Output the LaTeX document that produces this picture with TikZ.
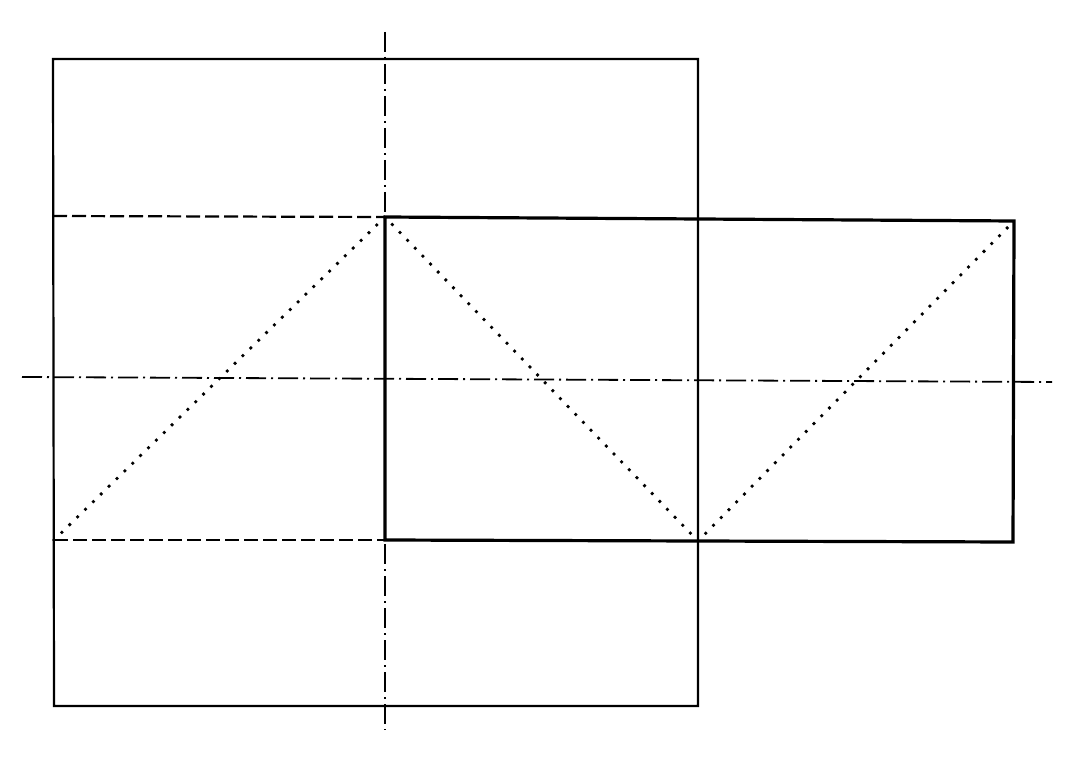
\documentclass[tikz,border=0pt]{standalone}
\begin{document}
\begin{tikzpicture}[x=0.5pt,y=-0.5pt,
  thinline/.style={line width=1.1pt},
  thickline/.style={line width=1.6pt},
  centerline/.style={line width=0.9pt,dash pattern=on 10pt off 2.5pt on 1pt off 2.5pt},
  hiddenline/.style={line width=1.1pt,dash pattern=on 7pt off 2.5pt},
  dotline/.style={line width=1.9pt,line cap=round,dash pattern=on 0pt off 5.5pt}]
\useasboundingbox (0,0) rectangle (1080,764);
% square corners
\coordinate (SA) at (53,59);
\coordinate (SB) at (698,59);
\coordinate (SC) at (698,706);
\coordinate (SD) at (54,706);
% rectangle corners
\coordinate (RA) at (385,217);
\coordinate (RB) at (1014,221);
\coordinate (RC) at (1013,542);
\coordinate (RD) at (385,540);
% left points
\coordinate (LA) at (53,216);
\coordinate (LD) at (54,540);
\coordinate (M) at (698,541);
% centre lines ends
\coordinate (VT) at (385,32);
\coordinate (VB) at (385,730);
\coordinate (HL) at (22,377);
\coordinate (HR) at (1052,382);
\draw[thinline] (SA) -- (SB) -- (SC) -- (SD) -- cycle;
\draw[thickline] (RA) -- (RB) -- (RC) -- (RD) -- cycle;
\draw[hiddenline] (LA) -- (RA);
\draw[hiddenline] (LD) -- (RD);
\draw[centerline] (VT) -- (VB);
\draw[centerline] (HL) -- (HR);
\draw[dotline] (LD) -- (RA) -- (M) -- (RB);
\end{tikzpicture}
\end{document}
